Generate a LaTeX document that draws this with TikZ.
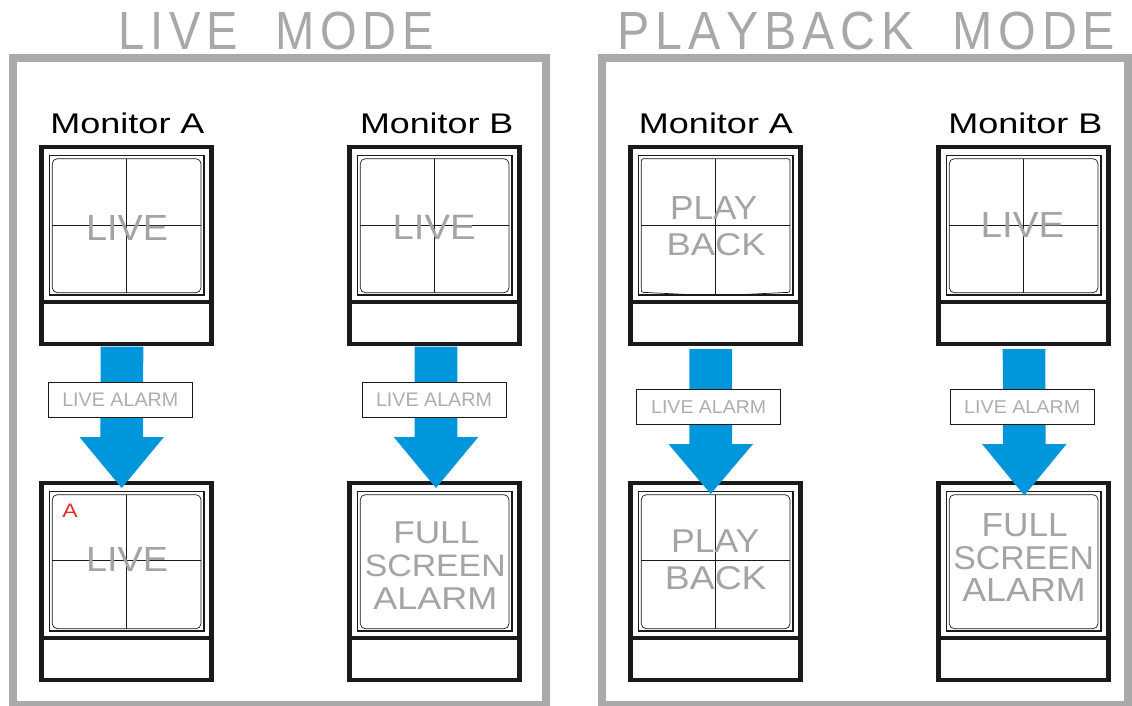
\documentclass[tikz,border=0pt]{standalone}
\usepackage{fontspec}
\setmainfont{Liberation Sans}
\newfontfamily\titlefont{Liberation Sans}
\usetikzlibrary{calc}
\definecolor{framegray}{HTML}{AAAAAA}
\definecolor{titlegray}{HTML}{A8A8A8}
\definecolor{scrgray}{HTML}{A4A4A4}
\definecolor{lblgray}{HTML}{AEAEAE}
\definecolor{arrowblue}{HTML}{0096DC}
\definecolor{alarmred}{HTML}{E2302E}
\definecolor{ink}{HTML}{1A1A1A}

\newcommand\fitbox[3]{\resizebox{#1pt}{#2pt}{#3}}
\newcommand\ks{\kern0.12em}
\newcommand\wg{\kern0.8em}

\tikzset{
  panel/.style={draw=framegray, line width=8pt},
  caseframe/.style={draw=ink, line width=4.5pt, line join=miter},
  bezel/.style={draw=ink, line width=1.1pt},
  tube/.style={draw=ink, line width=0.7pt, rounded corners=5pt},
  quad/.style={draw=ink, line width=0.9pt},
  txt/.style={inner sep=0pt, outer sep=0pt, anchor=center},
  scrtxt/.style={txt, text=scrgray},
  montxt/.style={txt, text=black},
  titletxt/.style={txt, text=titlegray, font=\titlefont},
  alarmbox/.style={draw=ink, line width=0.9pt, fill=white, minimum width=144pt,
    minimum height=35.4pt, inner sep=0pt, text=lblgray},
  flow/.style={fill=arrowblue},
}

% monitor case: name, X, Y (top-left of case stroke)
\newcommand\monitor[3]{%
  \coordinate (#1) at (#2,#3);
  \coordinate (#1-top) at ({#2+85},#3);
  \coordinate (#1-bot) at ({#2+85},{#3+197});
  \draw[caseframe] (#2,#3) rectangle ({#2+170},{#3+197});
  \draw[caseframe] (#2,{#3+155}) -- ({#2+170},{#3+155});
  \draw[bezel] ({#2+7.8},{#3+8.7}) rectangle ({#2+162.5},{#3+148});
}
\newcommand\tubeface[2]{\draw[tube] ({#1+10.8},{#2+11.7}) rectangle ({#1+159.5},{#2+145.7});}
\newcommand\quadlines[3]{%
  \draw[quad] ({#1+84.8},{#2+11.7}) -- ({#1+84.8},{#2+145.7});
  \draw[quad] ({#1+10.8},{#2+#3}) -- ({#1+159.5},{#2+#3});}
% block arrow: start coordinate, tip coordinate, head length
\newcommand\blockarrow[3]{%
  \fill[flow] ($(#1)+(-21.3,0)$) -- ($(#1)+(21.3,0)$) -- ($(#2)+(21.3,-#3)$)
    -- ($(#2)+(42.3,-#3)$) -- (#2) -- ($(#2)+(-42.3,-#3)$) -- ($(#2)+(-21.3,-#3)$) -- cycle;}

\begin{document}
\begin{tikzpicture}[x=1pt,y=-1pt]
\useasboundingbox (0,0) rectangle (1132,706);
\fill[white] (0,0) rectangle (1132,706);

% panels
\draw[panel] (12.5,58) rectangle (546,705);
\draw[panel] (602,58) rectangle (1128,705);

% titles
\node[titletxt] (t1) at (276,31.5) {\fitbox{315}{37.5}{L\ks I\ks V\ks E\wg M\ks O\ks D\ks E}};
\node[titletxt] (t2) at (866.5,31.5) {\fitbox{497}{37.5}{P\ks L\ks A\ks Y\ks B\ks A\ks C\ks K\wg M\ks O\ks D\ks E}};

% monitor labels
\node[montxt] (lbl1) at (127.5,123) {\fitbox{154}{20.6}{Monitor A}};
\node[montxt] (lbl2) at (436.7,123) {\fitbox{153.3}{20.6}{Monitor B}};
\node[montxt] (lbl3) at (716,123) {\fitbox{154}{20.6}{Monitor A}};
\node[montxt] (lbl4) at (1025.3,123) {\fitbox{154}{20.6}{Monitor B}};

% ---------- LIVE MODE ----------
\monitor{la1}{41.5}{147}
\tubeface{41.5}{147}
\quadlines{41.5}{147}{78.3}
\node[scrtxt] (la1t) at (127,227.5) {\fitbox{82}{25}{LIVE}};

\monitor{la2}{41.5}{483}
\tubeface{41.5}{483}
\quadlines{41.5}{483}{77}
\node[scrtxt] (la2t) at (127,559.7) {\fitbox{82}{24}{LIVE}};
\node[txt, text=alarmred] (la2a) at (70,511) {\fitbox{15.4}{13.4}{A}};

\monitor{lb1}{349.5}{147}
\tubeface{349.5}{147}
\quadlines{349.5}{147}{78.3}
\node[scrtxt] (lb1t) at (434.2,227.8) {\fitbox{83}{24.3}{LIVE}};

\monitor{lb2}{349.5}{483}
\tubeface{349.5}{483}
\node[scrtxt] (lb2f) at (436.3,533.2) {\fitbox{86}{21.7}{FULL}};
\node[scrtxt] (lb2s) at (435.3,565.8) {\fitbox{140.7}{21.7}{SCREEN}};
\node[scrtxt] (lb2r) at (435.3,598.2) {\fitbox{124}{21.7}{ALARM}};

% ---------- PLAYBACK MODE ----------
\monitor{pa1}{630.5}{147}
\draw[ink, line width=0.7pt] ({630.5+10.8},{147+16.7}) -- ({630.5+10.8},{147+140})
  .. controls ({630.5+10.8},{147+145.5}) .. ({630.5+16},{147+145.5})
  .. controls ({630.5+85},{147+149}) .. ({630.5+154},{147+145.5})
  .. controls ({630.5+159.5},{147+145.5}) .. ({630.5+159.5},{147+140})
  -- ({630.5+159.5},{147+16.7})
  .. controls ({630.5+159.5},{147+11.7}) .. ({630.5+154.5},{147+11.7})
  -- ({630.5+15.8},{147+11.7})
  .. controls ({630.5+10.8},{147+11.7}) .. ({630.5+10.8},{147+16.7}) -- cycle;
\draw[quad] ({630.5+84.8},{147+11.7}) -- ({630.5+84.8},{147+147.5});
\draw[quad] ({630.5+10.8},{147+78.3}) -- ({630.5+159.5},{147+78.3});
\node[scrtxt] (pa1p) at (713.7,208.3) {\fitbox{87.3}{23}{PLAY}};
\node[scrtxt] (pa1b) at (716.2,244.2) {\fitbox{99}{22}{BACK}};

\monitor{pa2}{630.5}{483}
\tubeface{630.5}{483}
\quadlines{630.5}{483}{77}
\node[scrtxt] (pa2p) at (715.2,541.3) {\fitbox{88.3}{22.7}{PLAY}};
\node[scrtxt] (pa2b) at (715.8,578.3) {\fitbox{101.7}{23}{BACK}};

\monitor{pb1}{938.5}{147}
\tubeface{938.5}{147}
\quadlines{938.5}{147}{78.3}
\node[scrtxt] (pb1t) at (1022.5,224.8) {\fitbox{83.6}{25}{LIVE}};

\monitor{pb2}{938.5}{483}
\tubeface{938.5}{483}
\node[scrtxt] (pb2f) at (1024.7,525) {\fitbox{86}{23}{FULL}};
\node[scrtxt] (pb2s) at (1023.7,557.7) {\fitbox{140.7}{23}{SCREEN}};
\node[scrtxt] (pb2r) at (1024,590) {\fitbox{123.4}{23}{ALARM}};

% ---------- arrows ----------
\coordinate (a1s) at (122,346.5);   \coordinate (a1t) at (121.7,488);
\coordinate (a2s) at (436,346.5);   \coordinate (a2t) at (436,488);
\coordinate (a3s) at (710.7,349);   \coordinate (a3t) at (710.7,494);
\coordinate (a4s) at (1024,349);    \coordinate (a4t) at (1024.3,495.5);
\blockarrow{a1s}{a1t}{51}
\blockarrow{a2s}{a2t}{51}
\blockarrow{a3s}{a3t}{50}
\blockarrow{a4s}{a4t}{51.5}

% alarm labels
\node[alarmbox] (al1) at (120.3,400) {\fitbox{116}{13.5}{LIVE ALARM}};
\node[alarmbox] (al2) at (434,400) {\fitbox{116}{13.5}{LIVE ALARM}};
\node[alarmbox] (al3) at (708.7,407) {\fitbox{115}{12.8}{LIVE ALARM}};
\node[alarmbox] (al4) at (1022.2,407) {\fitbox{116}{12.8}{LIVE ALARM}};
\end{tikzpicture}
\end{document}
